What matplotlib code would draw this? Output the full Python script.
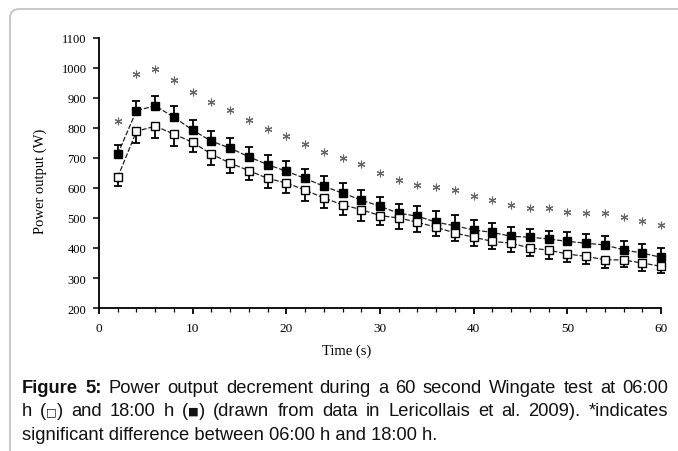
import matplotlib
matplotlib.use("Agg")
import matplotlib.pyplot as plt
from matplotlib.patches import FancyBboxPatch
from matplotlib.ticker import MultipleLocator

# Wingate test power output, mean values every 2 s
time_s = [2, 4, 6, 8, 10, 12, 14, 16, 18, 20, 22, 24, 26, 28, 30,
          32, 34, 36, 38, 40, 42, 44, 46, 48, 50, 52, 54, 56, 58, 60]
power_1800 = [713, 858, 874, 836, 793, 756, 733, 704, 678, 656, 632, 606, 583, 560, 539,
              516, 506, 486, 474, 460, 452, 439, 436, 430, 422, 416, 410, 394, 383, 369]
err_1800 = [31, 33, 33, 36, 34, 34, 33, 34, 33, 33, 31, 33, 33, 34, 30,
            31, 33, 37, 36, 34, 30, 30, 28, 28, 30, 31, 29, 28, 30, 31]
power_0600 = [636, 789, 806, 780, 752, 713, 683, 658, 632, 617, 593, 567, 544, 528, 508,
              500, 486, 469, 450, 436, 422, 416, 400, 393, 380, 372, 361, 360, 350, 339]
err_0600 = [28, 40, 40, 39, 33, 36, 33, 31, 33, 33, 36, 33, 33, 37, 31,
            37, 31, 28, 28, 28, 26, 28, 28, 30, 26, 26, 26, 24, 26, 23]
# height of the significance asterisks
signif_y = [822, 980, 997, 961, 921, 886, 861, 827, 797, 775, 747, 721, 699, 680, 650,
            627, 611, 604, 593, 573, 560, 543, 533, 533, 521, 517, 516, 502, 491, 478]

y_ticks = [200, 300, 400, 500, 600, 700, 800, 900, 1000, 1100]
x_ticks = [0, 10, 20, 30, 40, 50, 60]
x_label = "Time (s)"
y_label = "Power output (W)"

caption_line1 = [[("Figure", "bold")], [("5:", "bold")], [("Power", None)], [("output", None)],
                 [("decrement", None)], [("during", None)], [("a", None)], [("60", None)],
                 [("second", None)], [("Wingate", None)], [("test", None)], [("at", None)],
                 [("06:00", None)]]
caption_line2 = [[("h", None)], [("(", None), ("\u25a1", "sym"), (")", None)], [("and", None)],
                 [("18:00", None)], [("h", None)], [("(", None), ("\u25a0", "sym"), (")", None)],
                 [("(drawn", None)], [("from", None)], [("data", None)], [("in", None)],
                 [("Lericollais", None)], [("et", None)], [("al.", None)], [("2009).", None)],
                 [("*indicates", None)]]
caption_line3 = "significant difference between 06:00 h and 18:00 h."

W, H = 678, 452
fig = plt.figure(figsize=(W / 100, H / 100), dpi=100)
fig.patch.set_facecolor("white")


def px_box(left, top, right, bottom):
    return [left / W, 1 - bottom / H, (right - left) / W, (bottom - top) / H]


serif = ["Liberation Serif", "DejaVu Serif"]
sans = ["Liberation Sans", "DejaVu Sans"]

ax = fig.add_axes(px_box(99, 39, 661, 309))
ax.set_xlim(0, 60)
ax.set_ylim(200, 1100)

line_style = dict(color="#222222", lw=0.9, ls=(0, (4, 1.5)), zorder=2)
ax.plot(time_s, power_1800, **line_style, clip_on=False)
ax.plot(time_s, power_0600, **line_style, clip_on=False)

ax.errorbar(time_s, power_1800, yerr=[[0] * len(err_1800), err_1800], fmt="none",
            ecolor="black", elinewidth=1.3, capsize=3, capthick=1.3, zorder=3, clip_on=False)
ax.errorbar(time_s, power_0600, yerr=[err_0600, [0] * len(err_0600)], fmt="none",
            ecolor="black", elinewidth=1.3, capsize=3, capthick=1.3, zorder=3, clip_on=False)

ax.plot(time_s, power_1800, ls="none", marker="s", ms=6, mfc="black", mec="black",
        mew=1, zorder=4, clip_on=False)
ax.plot(time_s, power_0600, ls="none", marker="s", ms=6, mfc="white", mec="black",
        mew=1, zorder=4, clip_on=False)

ax.plot(time_s, signif_y, ls="none", marker=(6, 2, 0), ms=5.5, mew=0.8,
        color="#666666", zorder=4, clip_on=False)

for side in ("top", "right"):
    ax.spines[side].set_visible(False)
for side in ("left", "bottom"):
    ax.spines[side].set_linewidth(1.3)
    ax.spines[side].set_color("black")

ax.set_yticks(y_ticks)
ax.set_xticks(x_ticks)
ax.xaxis.set_minor_locator(MultipleLocator(2))
ax.tick_params(axis="y", direction="out", length=4, width=1.1, pad=5, labelsize=9)
ax.tick_params(axis="x", which="major", direction="out", length=4, width=1.3, pad=6, labelsize=9.5)
ax.tick_params(axis="x", which="minor", direction="out", length=3, width=0.9)
for lab in ax.get_xticklabels() + ax.get_yticklabels():
    lab.set_family(serif)

fig.text(347 / W, 1 - 351 / H, x_label, ha="center", va="center", family=serif, fontsize=10.5)
fig.text(40 / W, 1 - 181 / H, y_label, ha="center", va="center", rotation=90,
         family=serif, fontsize=10.5)

# overlay in pixel units for the frame and the caption
ov = fig.add_axes([0, 0, 1, 1])
ov.set_xlim(0, W)
ov.set_ylim(H, 0)
ov.axis("off")
ov.add_patch(FancyBboxPatch((10, 10), 900, 700, boxstyle="round,pad=0,rounding_size=9",
                            fill=False, ec="#c4c4c4", lw=1.3))

cap_size = 13.2
renderer = fig.canvas.get_renderer()


def draw_justified(y, words, x0, x1):
    placed = []
    total = 0.0
    for word in words:
        segs = []
        for txt, style in word:
            kw = dict(family=sans, fontsize=cap_size, color="#111111", va="baseline", ha="left")
            y_txt = y
            if style == "bold":
                kw["fontweight"] = "bold"
            elif style == "sym":
                kw["fontsize"] = cap_size * 0.62
                kw["family"] = ["DejaVu Sans"]
                y_txt = y - 1.5
            t = ov.text(0, y_txt, txt, **kw)
            w = t.get_window_extent(renderer).width
            segs.append((t, w))
            total += w
        placed.append(segs)
    gap = (x1 - x0 - total) / (len(words) - 1)
    x = x0
    for segs in placed:
        for t, w in segs:
            t.set_x(x)
            x += w
        x += gap


cap_x0, cap_x1 = 22, 668
draw_justified(393, caption_line1, cap_x0, cap_x1)
draw_justified(416.5, caption_line2, cap_x0, cap_x1)
ov.text(cap_x0, 440, caption_line3, family=sans, fontsize=cap_size, color="#111111",
        va="baseline", ha="left")

fig.savefig("out.png", dpi=100, facecolor="white")
